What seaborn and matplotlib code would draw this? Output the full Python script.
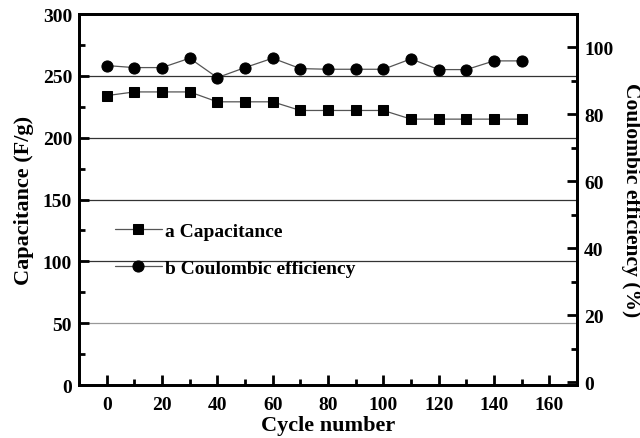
import matplotlib
matplotlib.use("Agg")
import matplotlib.pyplot as plt
import seaborn as sns
import pandas as pd

# Cycling data
cycles = [0, 10, 20, 30, 40, 50, 60, 70, 80, 90, 100, 110, 120, 130, 140, 150]
capacitance = [234, 237, 237, 237, 229, 229, 229, 222, 222, 222, 222, 215, 215, 215, 215, 215]
coulombic = [94.6, 94.0, 94.0, 96.8, 91.0, 94.0, 96.8, 93.7, 93.5, 93.5, 93.5, 96.6, 93.4, 93.4, 96.0, 96.0]

x_ticks = [0, 20, 40, 60, 80, 100, 120, 140, 160]
left_ticks = [0, 50, 100, 150, 200, 250, 300]
right_ticks = [0, 20, 40, 60, 80, 100]

sns.set_style("ticks")
plt.rcParams["font.family"] = ["Liberation Serif", "DejaVu Serif"]
plt.rcParams["font.weight"] = "bold"
plt.rcParams["text.color"] = "black"
plt.rcParams["axes.labelcolor"] = "black"
plt.rcParams["xtick.color"] = "black"
plt.rcParams["ytick.color"] = "black"

df = pd.DataFrame({"cycle": cycles, "cap": capacitance, "ce": coulombic})

fig = plt.figure(figsize=(6.4, 4.39), dpi=100)
ax = fig.add_axes([0.1234, 0.1207, 0.7782, 0.8451])
ax2 = ax.twinx()

sns.lineplot(data=df, x="cycle", y="cap", ax=ax, color="#555555", lw=0.9,
             marker="s", markersize=7, markerfacecolor="black",
             markeredgecolor="black", label="a Capacitance", legend=False)
sns.lineplot(data=df, x="cycle", y="ce", ax=ax2, color="#555555", lw=0.9,
             marker="o", markersize=8, markerfacecolor="black",
             markeredgecolor="black", label="b Coulombic efficiency", legend=False)

ax.set_xlim(-10, 170)
ax.set_ylim(0, 300)
ax2.set_ylim(-0.8, 110)

ax.set_xticks(x_ticks)
ax.set_xticks([v + 10 for v in x_ticks[:-1]], minor=True)
ax.set_yticks(left_ticks)
ax.set_yticks([25, 75, 125, 175, 225, 275], minor=True)
ax2.set_yticks(right_ticks)
ax2.set_yticks([10, 30, 50, 70, 90], minor=True)

for a in (ax, ax2):
    for s in a.spines.values():
        s.set_linewidth(2.0)
        s.set_color("black")
    a.tick_params(which="major", direction="in", length=7, width=2.0,
                  labelsize=14, pad=5, colors="black")
    a.tick_params(which="minor", direction="in", length=4, width=2.0,
                  colors="black")
ax.tick_params(axis="x", which="major", pad=8)

# Horizontal guide lines at the left-axis major ticks
for v in [50, 100, 150, 200, 250]:
    ax.axhline(v, color="#999999" if v == 50 else "#333333", lw=0.9, zorder=0)

for lab in ax.get_xticklabels() + ax.get_yticklabels() + ax2.get_yticklabels():
    lab.set_fontweight("bold")

ax.set_xlabel("Cycle number", fontsize=16, fontweight="bold", labelpad=1,
              color="black")
ax.set_ylabel("Capacitance (F/g)", fontsize=16, fontweight="bold", labelpad=6,
              color="black")
ax2.set_ylabel("Coulombic efficiency (%)", fontsize=15.5, fontweight="bold",
               rotation=270, labelpad=20, color="black")

h1, l1 = ax.get_legend_handles_labels()
h2, l2 = ax2.get_legend_handles_labels()
leg = ax2.legend(h1 + h2, l1 + l2, loc="center left",
                 bbox_to_anchor=(0.072, 0.366), frameon=False,
                 borderpad=0, borderaxespad=0, handlelength=2.4,
                 handletextpad=0.2, labelspacing=1.0,
                 prop={"family": ["Liberation Serif"], "weight": "bold", "size": 14})
for t in leg.get_texts():
    t.set_color("black")

fig.savefig("out.png", dpi=100)
